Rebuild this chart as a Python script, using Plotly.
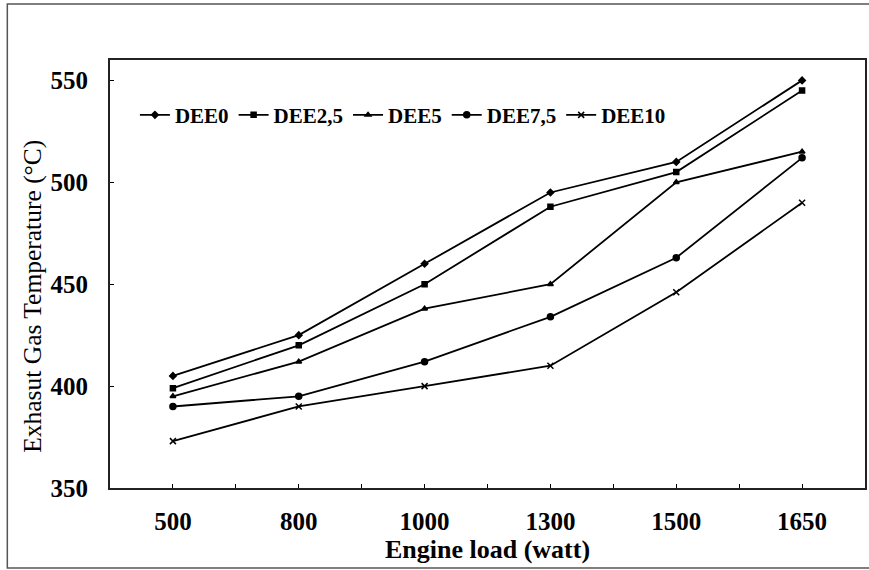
import plotly.graph_objects as go

# Engine load categories (watt)
loads = ["500", "800", "1000", "1300", "1500", "1650"]

# Exhaust gas temperature (°C) for each DEE blend
dee0 = [405, 425, 460, 495, 510, 550]
dee2_5 = [399, 420, 450, 488, 505, 545]
dee5 = [395, 412, 438, 450, 500, 515]
dee7_5 = [390, 395, 412, 434, 463, 512]
dee10 = [373, 390, 400, 410, 446, 490]

series = [
    ("DEE0", dee0, "diamond", 5),
    ("DEE2,5", dee2_5, "square", 5),
    ("DEE5", dee5, "triangle-up", 5),
    ("DEE7,5", dee7_5, "circle", 6),
    ("DEE10", dee10, "x-thin-open", 6),
]

xpos = list(range(len(loads)))
font_family = "Liberation Serif, Times New Roman, serif"

fig = go.Figure()
for name, vals, sym, size in series:
    fig.add_trace(go.Scatter(
        x=xpos, y=vals, name=name, mode="lines+markers",
        line=dict(color="black", width=1.8),
        marker=dict(symbol=sym, size=size, color="black",
                    line=dict(color="black", width=1.5)),
    ))

fig.update_layout(
    width=869, height=570,
    margin=dict(l=110, r=2, t=60, b=82),
    paper_bgcolor="white", plot_bgcolor="white",
    font=dict(family=font_family, color="black", size=18),
    showlegend=True,
    legend=dict(
        orientation="h", x=0.033, y=0.871, xanchor="left", yanchor="middle",
        font=dict(size=21, family=font_family, color="black", weight="bold"),
        bgcolor="rgba(0,0,0,0)", itemwidth=30, tracegroupgap=0,
    ),
    xaxis=dict(
        range=[-0.5, 5.5],
        tickmode="array", tickvals=xpos, ticktext=loads,
        ticks="inside", ticklen=4, tickcolor="black", tickwidth=1,
        minor=dict(tickmode="array", tickvals=[x + 0.5 for x in xpos[:-1]] + [-0.5],
                   ticks="inside", ticklen=4, tickcolor="black"),
        showline=True, linecolor="#222", linewidth=1.8, mirror=True,
        showgrid=False, zeroline=False,
        tickfont=dict(size=25, weight="bold"),
        ticklabelstandoff=10,
        title=dict(text="Engine load (watt)", font=dict(size=26, weight="bold"), standoff=2),
    ),
    yaxis=dict(
        range=[350, 560],
        tickmode="array", tickvals=[350, 400, 450, 500, 550],
        ticks="inside", ticklen=4, tickcolor="black", tickwidth=1,
        showline=True, linecolor="#222", linewidth=1.8, mirror=True,
        showgrid=False, zeroline=False,
        tickfont=dict(size=25, weight="bold"),
        ticklabelstandoff=15,
    ),
)

# Y-axis title, placed slightly below the vertical centre of the plot
fig.add_annotation(
    text="Exhasut Gas Temperature (°C)", textangle=-90,
    xref="paper", yref="paper", x=-0.102, y=0.449,
    xanchor="center", yanchor="middle", showarrow=False,
    font=dict(size=25.5, family=font_family, color="black"),
)

# Outer frame around the whole figure
fig.add_shape(type="rect", xref="paper", yref="paper",
              x0=-0.136, x1=1.02, y0=-0.187, y1=1.131,
              line=dict(color="#555", width=1.5), layer="below")

fig.write_html("out.html")
